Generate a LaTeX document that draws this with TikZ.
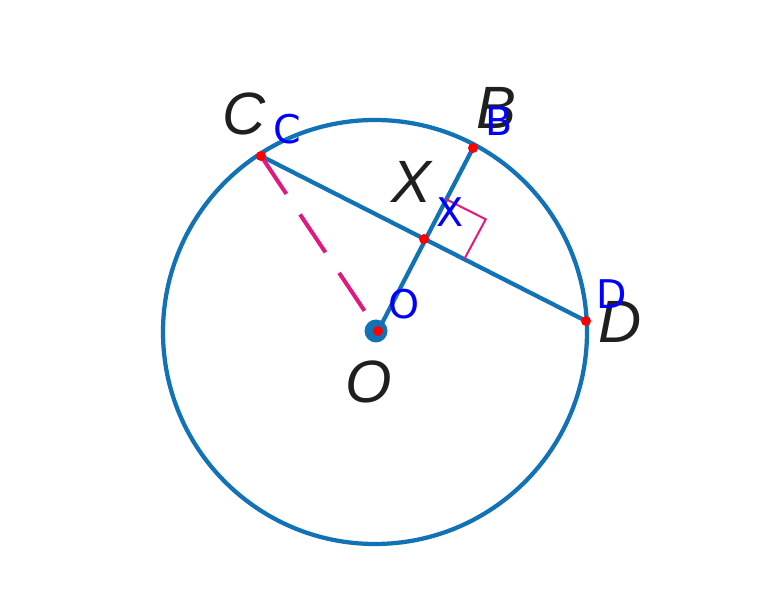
\documentclass[tikz,border=0pt]{standalone}
\usepackage{fontspec}
\setmainfont{Liberation Sans}
\newfontfamily\dejavu{DejaVu Sans}
\usetikzlibrary{calc}
\definecolor{circblue}{HTML}{1172B6}
\definecolor{hotpink}{HTML}{E0187F}
\definecolor{dotred}{HTML}{FF0000}
\tikzset{%
  chord/.style={circblue,line width=0.085cm},% blue strokes
  figlabel/.style={inner sep=0pt,text=black!88,font=\fontsize{34}{34}\selectfont\itshape},
  ptlabel/.style={inner sep=0pt,text=blue,font=\dejavu\fontsize{22.5}{22.5}\selectfont},
  reddot/.style={fill=dotred,draw=none}
}

\begin{document}
\begin{tikzpicture}[x=0.02cm,y=-0.02cm]
  \useasboundingbox (0,0) rectangle (775,607);
  % coordinates (pixels)
  \pgfmathsetmacro{\rC}{212};  % radius of circle
  \pgfmathsetmacro{\rP}{5};    % radius of red points
  \coordinate (M) at (375,332);
  \coordinate (O) at (378,331);
  \coordinate (C) at (261,156);
  \coordinate (B) at (473,148);
  \coordinate (D) at (586,321);
  \coordinate (X) at (424,239);
  % circle
  \draw[chord] (M) circle ({\rC});
  % chord and radius
  \draw[chord] (C) -- (D);
  \draw[chord] (O) -- (B);
  \draw[hotpink,line width=0.08cm,dash pattern=on 26 off 14] (C) -- (O);
  % right angle
  \coordinate (R1) at ($(X)!0.44!(B)$);
  \coordinate (R3) at ($(X)!0.248!(D)$);
  \draw[hotpink,line width=0.04cm] (R1) -- ($(R1)+(R3)-(X)$) -- (R3);
  % centre
  \fill[circblue] (O) ++(-2,0) circle (11.5);
  % points
  \foreach \p in {C,B,D,X,O}
    \fill[reddot] (\p) circle ({\rP});
  % figure labels
  \node[figlabel] (fC) at (244,114) {C};
  \node[figlabel] (fB) at (496,108) {B};
  \node[figlabel] (fX) at (411,182) {X};
  \node[figlabel] (fO) at (369,382) {O};
  \node[figlabel] (fD) at (620,322) {D};
  % point labels
  \foreach \p in {C,B,X,O,D}
    \node[ptlabel] (l\p) at ([shift={(26,-27)}]\p) {\p};
\end{tikzpicture}
\end{document}
